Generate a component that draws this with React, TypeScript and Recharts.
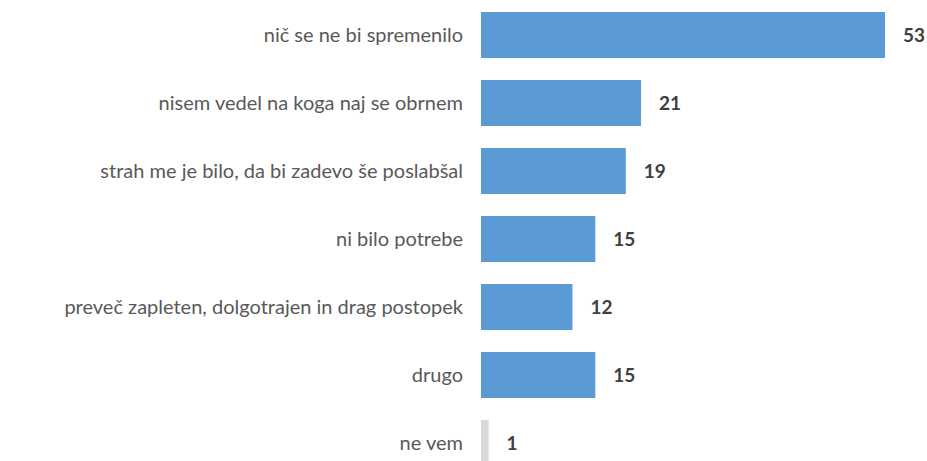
import { BarChart, Bar, XAxis, YAxis, Cell, LabelList } from "recharts";

const categories = [
  "nič se ne bi spremenilo",
  "nisem vedel na koga naj se obrnem",
  "strah me je bilo, da bi zadevo še poslabšal",
  "ni bilo potrebe",
  "preveč zapleten, dolgotrajen in drag postopek",
  "drugo",
  "ne vem",
];
const values = [53, 21, 19, 15, 12, 15, 1];
const barColors = ["#5B9BD5", "#5B9BD5", "#5B9BD5", "#5B9BD5", "#5B9BD5", "#5B9BD5", "#D9D9D9"];

const data = categories.map((name, i) => ({ name, value: values[i] }));

const FONT = "Lato, 'Open Sans', sans-serif";

export default function App() {
  return (
    <div
      style={{
        position: "fixed",
        top: 0,
        left: 0,
        width: 927,
        height: 461,
        overflow: "hidden",
        background: "#fff",
      }}
    >
      <BarChart
        width={927}
        height={480}
        data={data}
        layout="vertical"
        margin={{ top: 1, right: 42, bottom: 3, left: 0 }}
      >
        <XAxis type="number" domain={[0, 53]} hide />
        <YAxis
          type="category"
          dataKey="name"
          width={481}
          axisLine={false}
          tickLine={false}
          tickMargin={12}
          interval={0}
          tick={{ fill: "#595959", fontSize: 20, fontFamily: FONT }}
        />
        <Bar dataKey="value" barSize={46} isAnimationActive={false}>
          {data.map((_, i) => (
            <Cell key={`cell-${i}`} fill={barColors[i]} />
          ))}
          <LabelList
            dataKey="value"
            position="right"
            offset={18}
            style={{ fill: "#404040", fontSize: 19, fontWeight: 700, fontFamily: FONT }}
          />
        </Bar>
      </BarChart>
    </div>
  );
}
